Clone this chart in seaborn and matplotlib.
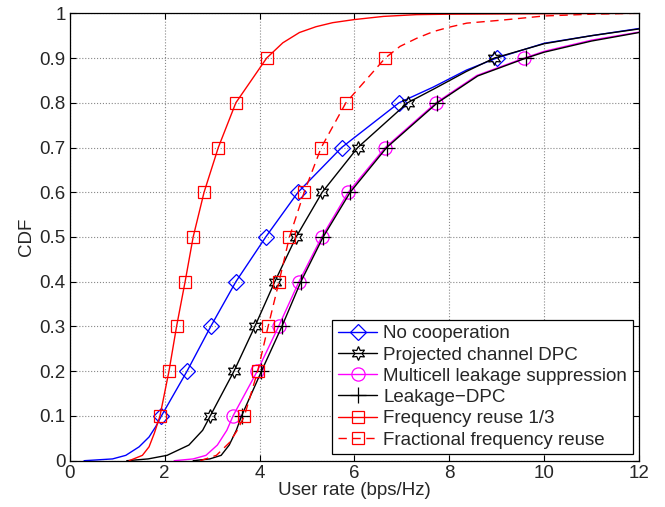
"""
plot.py
CDF of user rate for several multicell cooperation schemes (MATLAB-style figure).
Run: python plot.py
"""
import matplotlib
matplotlib.use('Agg')
import matplotlib.pyplot as plt
import seaborn as sns

# each curve: CDF levels and the user rate (bps/Hz) read at those levels
cdf_no_coop  = [0.0, 0.004, 0.012, 0.031, 0.053, 0.076, 0.1, 0.2, 0.3, 0.4, 0.5, 0.6, 0.7, 0.8,
                0.835, 0.873, 0.9, 0.933, 0.95, 0.966, 0.975]
rate_no_coop = [0.30, 0.90, 1.18, 1.46, 1.67, 1.81, 1.93, 2.47, 2.97, 3.50, 4.13, 4.81, 5.73, 6.94,
                7.66, 8.36, 9.00, 10.0, 11.0, 12.0, 12.8]

cdf_proj_dpc  = [0.0, 0.004, 0.012, 0.035, 0.068, 0.1, 0.2, 0.3, 0.4, 0.5, 0.6, 0.7, 0.8,
                 0.83, 0.87, 0.9, 0.932, 0.95, 0.965, 0.975]
rate_proj_dpc = [1.20, 1.65, 2.05, 2.51, 2.80, 2.96, 3.46, 3.90, 4.32, 4.77, 5.32, 6.07, 7.12,
                 7.66, 8.36, 8.95, 10.0, 11.0, 12.0, 12.8]

cdf_multicell  = [0.0, 0.004, 0.012, 0.035, 0.068, 0.1, 0.2, 0.3, 0.4, 0.5, 0.6, 0.7, 0.8,
                  0.861, 0.9, 0.915, 0.94, 0.958, 0.97]
rate_multicell = [2.20, 2.60, 2.87, 3.11, 3.31, 3.44, 3.95, 4.40, 4.83, 5.31, 5.87, 6.65, 7.72,
                  8.58, 9.58, 10.0, 11.0, 12.0, 12.8]

cdf_leak_dpc  = [0.0, 0.004, 0.012, 0.035, 0.068, 0.1, 0.2, 0.3, 0.4, 0.5, 0.6, 0.7, 0.8,
                 0.86, 0.9, 0.913, 0.938, 0.957, 0.97]
rate_leak_dpc = [2.60, 2.95, 3.19, 3.36, 3.51, 3.62, 4.04, 4.47, 4.87, 5.34, 5.91, 6.68, 7.75,
                 8.60, 9.62, 10.0, 11.0, 12.0, 12.8]

cdf_reuse3  = [0.0, 0.012, 0.031, 0.061, 0.09, 0.1, 0.2, 0.3, 0.4, 0.5, 0.6, 0.7, 0.8, 0.9,
               0.934, 0.957, 0.970, 0.979, 0.986, 0.993, 0.997, 0.998, 1.0]
rate_reuse3 = [1.25, 1.53, 1.67, 1.78, 1.87, 1.90, 2.09, 2.25, 2.43, 2.60, 2.83, 3.13, 3.50, 4.15,
               4.49, 4.84, 5.19, 5.54, 6.00, 6.61, 7.31, 8.00, 12.0]

cdf_ffr  = [0.0, 0.012, 0.04, 0.068, 0.1, 0.2, 0.3, 0.4, 0.5, 0.6, 0.7, 0.8, 0.9,
            0.926, 0.944, 0.959, 0.969, 0.978, 0.985, 0.994, 0.998, 1.0]
rate_ffr = [2.75, 3.09, 3.36, 3.53, 3.68, 3.96, 4.18, 4.41, 4.63, 4.94, 5.30, 5.82, 6.65,
            6.96, 7.31, 7.66, 8.00, 8.37, 9.14, 10.0, 11.0, 12.0]

# markers sit at CDF = 0.1 ... 0.9
marker_cdf = [0.1, 0.2, 0.3, 0.4, 0.5, 0.6, 0.7, 0.8, 0.9]

series = [
    ('No cooperation',                cdf_no_coop,   rate_no_coop,   '#0000ff', 'D',       8,   '-'),
    ('Projected channel DPC',         cdf_proj_dpc,  rate_proj_dpc,  'black',   (6, 1, 0), 10,  '-'),
    ('Multicell leakage suppression', cdf_multicell, rate_multicell, '#ff00ff', 'o',       9.5, '-'),
    ('Leakage\u2212DPC',              cdf_leak_dpc,  rate_leak_dpc,  'black',   '+',       11,  '-'),
    ('Frequency reuse 1/3',           cdf_reuse3,    rate_reuse3,    '#ff0000', 's',       8,   '-'),
    ('Fractional frequency reuse',    cdf_ffr,       rate_ffr,       '#ff0000', 's',       8,   (0, (6, 4))),
]

sns.set_style('ticks')
plt.rcParams['font.family'] = ['Liberation Sans', 'DejaVu Sans']

fig = plt.figure(figsize=(6.65, 5.07), dpi=100)
ax = fig.add_axes([0.105, 0.0913, 0.856, 0.8825])

for label, cdf, rate, color, marker, ms, ls in series:
    idx = [i for i, c in enumerate(cdf) if c in marker_cdf]
    sns.lineplot(x=rate, y=cdf, ax=ax, sort=False, estimator=None,
                 color=color, linestyle=ls, linewidth=1.0,
                 marker=marker, markevery=idx, markersize=ms,
                 markerfacecolor='none', markeredgecolor=color,
                 markeredgewidth=0.9, label=label)

ax.set_xlim(0, 12)
ax.set_ylim(0, 1)
ax.set_xticks(range(0, 13, 2))
ax.set_yticks([i / 10 for i in range(11)])
ax.set_yticklabels(['0'] + [f'{i / 10:.1f}' for i in range(1, 10)] + ['1'])
ax.set_xlabel('User rate (bps/Hz)', fontsize=13.5, labelpad=0)
ax.set_ylabel('CDF', fontsize=13.5, labelpad=3)

ax.grid(True, linestyle=':', color='#888888', linewidth=0.8)
ax.tick_params(direction='in', length=4, top=True, right=True, labelsize=13.5,
               color='black', width=0.8, pad=3)
for sp in ax.spines.values():
    sp.set_color('black')
    sp.set_linewidth(0.9)

leg = ax.legend(loc='lower right', fontsize=13.5, fancybox=False, framealpha=1,
                edgecolor='black', handlelength=2.1, borderaxespad=0.35,
                labelspacing=0.22, borderpad=0.3, handletextpad=0.3)
leg.get_frame().set_linewidth(0.9)

fig.savefig('out.png', dpi=100)
